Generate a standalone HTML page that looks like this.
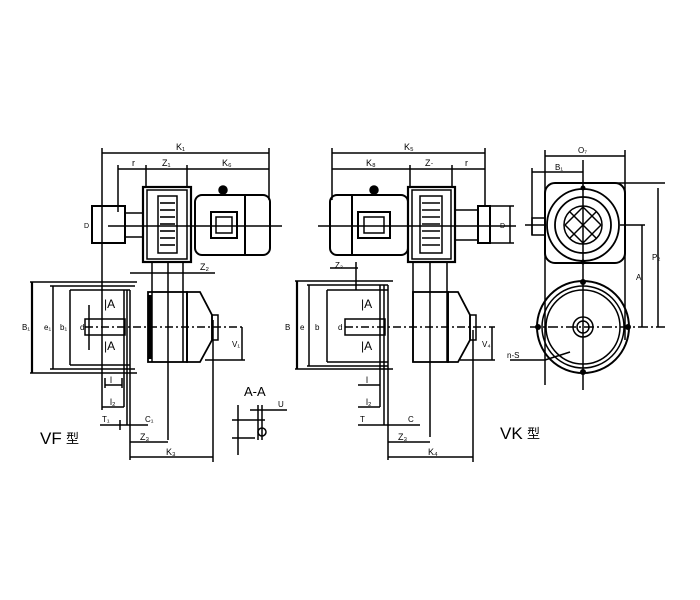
<!DOCTYPE html>
<html><head><meta charset="utf-8"><style>
html,body{margin:0;padding:0;background:#fff;}
svg{display:block;}
text{font-family:"Liberation Sans","Noto Sans CJK SC",sans-serif;fill:#000;}
</style></head><body>
<svg width="700" height="600" viewBox="0 0 700 600" xmlns="http://www.w3.org/2000/svg">
<g stroke="#000" stroke-width="1.5" fill="none">
<line x1="102" y1="148" x2="102" y2="410"/>
<line x1="269" y1="148" x2="269" y2="200"/>
<line x1="102" y1="153" x2="269" y2="153"/>
<line x1="118" y1="169" x2="269" y2="169"/>
<line x1="118" y1="165" x2="118" y2="212"/>
<line x1="146" y1="165" x2="146" y2="187"/>
<line x1="187" y1="165" x2="187" y2="187"/>
<rect x="143" y="187" width="48" height="75" stroke-width="2.2"/>
<rect x="147" y="190" width="40" height="69"/>
<rect x="158" y="196" width="19" height="57"/>
<g stroke-width="1.6"><line x1="160" y1="203" x2="175" y2="203"/><line x1="160" y1="210" x2="175" y2="210"/><line x1="160" y1="217" x2="175" y2="217"/><line x1="160" y1="224" x2="175" y2="224"/><line x1="160" y1="231" x2="175" y2="231"/><line x1="160" y1="238" x2="175" y2="238"/><line x1="160" y1="245" x2="175" y2="245"/></g>
<rect x="195" y="195" width="75" height="60" rx="7" stroke-width="2"/>
<line x1="245" y1="195" x2="245" y2="255" stroke-width="2"/>
<rect x="211" y="212" width="26" height="26" stroke-width="2"/>
<rect x="216" y="217" width="16" height="16"/>
<circle cx="223" cy="190" r="4" fill="#000"/>
<rect x="92" y="206" width="33" height="37" stroke-width="2"/>
<rect x="125" y="213" width="18" height="24"/>
<line x1="108" y1="226" x2="282" y2="226"/>
<line x1="152" y1="262" x2="152" y2="362"/>
<line x1="168" y1="262" x2="168" y2="440"/>
<line x1="183" y1="262" x2="183" y2="362"/>
<line x1="130" y1="273" x2="215" y2="273"/>
<line x1="30" y1="282" x2="137" y2="282"/>
<line x1="30" y1="373" x2="137" y2="373"/>
<line x1="32" y1="282" x2="32" y2="373" stroke-width="2.2"/>
<line x1="53" y1="286" x2="53" y2="369"/>
<line x1="50" y1="286" x2="135" y2="286"/>
<line x1="50" y1="369" x2="135" y2="369"/>
<line x1="70" y1="290" x2="70" y2="365"/>
<line x1="70" y1="290" x2="130" y2="290"/>
<line x1="70" y1="365" x2="130" y2="365"/>
<line x1="130" y1="290" x2="130" y2="460"/>
<line x1="127" y1="290" x2="127" y2="425"/>
<line x1="124" y1="290" x2="124" y2="407"/>
<line x1="85" y1="327" x2="245" y2="327" stroke-dasharray="8,3,2,3"/>
<rect x="85" y="319" width="40" height="16"/>
<line x1="89" y1="305" x2="89" y2="350"/>
<rect x="148" y="292" width="39" height="70" stroke-width="1.8"/>
<line x1="150" y1="295" x2="150" y2="359" stroke-width="3"/>
<polygon points="187,292 200,292 212,315 212,340 200,362 187,362" stroke-width="1.8"/>
<rect x="212" y="315" width="6" height="25"/>
<line x1="242" y1="327" x2="242" y2="360"/>
<line x1="205" y1="360" x2="245" y2="360"/>
<line x1="213" y1="320" x2="213" y2="462"/>
<line x1="130" y1="457" x2="213" y2="457"/>
<line x1="130" y1="442" x2="168" y2="442"/>
<line x1="102" y1="407" x2="124" y2="407"/>
<line x1="105" y1="385" x2="122" y2="385"/>
<line x1="105" y1="378" x2="105" y2="388"/>
<line x1="122" y1="378" x2="122" y2="388"/>
<line x1="100" y1="425" x2="148" y2="425"/>
<line x1="120" y1="420" x2="120" y2="430"/>
<line x1="238" y1="405" x2="238" y2="455"/>
<line x1="232" y1="420" x2="265" y2="420"/>
<line x1="232" y1="438" x2="255" y2="438"/>
<line x1="258" y1="405" x2="258" y2="440"/>
<line x1="262" y1="405" x2="262" y2="440"/>
<line x1="250" y1="410" x2="287" y2="410"/>
<circle cx="262" cy="432" r="4"/>
<line x1="332" y1="148" x2="332" y2="200"/>
<line x1="485" y1="148" x2="485" y2="205"/>
<line x1="332" y1="153" x2="485" y2="153"/>
<line x1="332" y1="169" x2="485" y2="169"/>
<line x1="410" y1="165" x2="410" y2="187"/>
<line x1="452" y1="165" x2="452" y2="187"/>
<rect x="330" y="195" width="78" height="60" rx="7" stroke-width="2"/>
<line x1="352" y1="195" x2="352" y2="255" stroke-width="2"/>
<rect x="358" y="212" width="32" height="26" stroke-width="2"/>
<rect x="364" y="217" width="20" height="16"/>
<circle cx="374" cy="190" r="4" fill="#000"/>
<rect x="408" y="187" width="47" height="75" stroke-width="2.2"/>
<rect x="412" y="190" width="39" height="69"/>
<rect x="420" y="196" width="22" height="57"/>
<g stroke-width="1.6"><line x1="422" y1="203" x2="440" y2="203"/><line x1="422" y1="210" x2="440" y2="210"/><line x1="422" y1="217" x2="440" y2="217"/><line x1="422" y1="224" x2="440" y2="224"/><line x1="422" y1="231" x2="440" y2="231"/><line x1="422" y1="238" x2="440" y2="238"/><line x1="422" y1="245" x2="440" y2="245"/></g>
<rect x="455" y="210" width="23" height="30"/>
<rect x="478" y="206" width="12" height="37" stroke-width="2"/>
<line x1="510" y1="206" x2="510" y2="243"/>
<line x1="490" y1="206" x2="514" y2="206"/>
<line x1="490" y1="243" x2="514" y2="243"/>
<line x1="318" y1="226" x2="516" y2="226"/>
<line x1="413" y1="262" x2="413" y2="362"/>
<line x1="430" y1="262" x2="430" y2="437"/>
<line x1="447" y1="262" x2="447" y2="362"/>
<line x1="330" y1="268" x2="358" y2="268"/>
<line x1="356" y1="262" x2="356" y2="290"/>
<line x1="295" y1="281" x2="393" y2="281"/>
<line x1="295" y1="369" x2="393" y2="369"/>
<line x1="297" y1="281" x2="297" y2="369" stroke-width="2.2"/>
<line x1="309" y1="285" x2="309" y2="366"/>
<line x1="307" y1="285" x2="388" y2="285"/>
<line x1="307" y1="366" x2="388" y2="366"/>
<line x1="327" y1="290" x2="327" y2="362"/>
<line x1="327" y1="290" x2="388" y2="290"/>
<line x1="327" y1="362" x2="388" y2="362"/>
<line x1="388" y1="285" x2="388" y2="460"/>
<line x1="384" y1="285" x2="384" y2="425"/>
<line x1="380" y1="285" x2="380" y2="407"/>
<line x1="345" y1="327" x2="495" y2="327" stroke-dasharray="8,3,2,3"/>
<rect x="345" y="319" width="40" height="16"/>
<rect x="413" y="292" width="35" height="70" stroke-width="1.8"/>
<polygon points="448,292 458,292 470,315 470,340 458,362 448,362" stroke-width="1.8"/>
<rect x="470" y="315" width="6" height="25"/>
<line x1="492" y1="327" x2="492" y2="360"/>
<line x1="460" y1="360" x2="495" y2="360"/>
<line x1="473" y1="330" x2="473" y2="462"/>
<line x1="388" y1="457" x2="473" y2="457"/>
<line x1="388" y1="442" x2="430" y2="442"/>
<line x1="358" y1="407" x2="380" y2="407"/>
<line x1="358" y1="385" x2="380" y2="385"/>
<line x1="358" y1="425" x2="420" y2="425"/>
<line x1="545" y1="150" x2="545" y2="385"/>
<line x1="625" y1="150" x2="625" y2="340"/>
<line x1="545" y1="156" x2="625" y2="156"/>
<line x1="532" y1="172" x2="583" y2="172"/>
<line x1="532" y1="168" x2="532" y2="235"/>
<rect x="532" y="218" width="13" height="17"/>
<rect x="545" y="183" width="80" height="80" rx="10" stroke-width="2"/>
<circle cx="583" cy="225" r="36" stroke-width="1.8"/>
<circle cx="583" cy="225" r="28" stroke-width="1.8"/>
<circle cx="583" cy="225" r="19"/>
<line x1="570" y1="212" x2="596" y2="238"/><line x1="596" y1="212" x2="570" y2="238"/>
<line x1="565" y1="225" x2="583" y2="207"/><line x1="583" y1="243" x2="601" y2="225"/>
<line x1="565" y1="225" x2="583" y2="243"/><line x1="583" y1="207" x2="601" y2="225"/>
<line x1="583" y1="160" x2="583" y2="390"/>
<line x1="525" y1="225" x2="545" y2="225"/>
<circle cx="583" cy="327" r="46" stroke-width="2"/>
<circle cx="583" cy="327" r="41"/>
<circle cx="583" cy="327" r="37"/>
<circle cx="583" cy="327" r="10"/>
<circle cx="583" cy="327" r="6"/>
<line x1="530" y1="327" x2="665" y2="327" stroke-dasharray="10,3,2,3"/>
<line x1="600" y1="183" x2="665" y2="183"/>
<line x1="620" y1="225" x2="645" y2="225"/>
<line x1="642" y1="225" x2="642" y2="327"/>
<line x1="658" y1="188" x2="658" y2="327"/>
<line x1="510" y1="360" x2="545" y2="360"/>
<line x1="545" y1="360" x2="570" y2="352"/>
</g>
<g fill="#000">
<circle cx="583" cy="282" r="3"/><circle cx="583" cy="372" r="3"/>
<circle cx="538" cy="327" r="3"/><circle cx="628" cy="327" r="3"/>
<circle cx="583" cy="262" r="2.5"/><circle cx="583" cy="188" r="2.5"/>
</g>
<g font-size="9">
<text x="176" y="150">K₁</text>
<text x="132" y="166">r</text>
<text x="162" y="166">Z₁</text>
<text x="222" y="166">K₆</text>
<text x="84" y="228" font-size="7">D</text>
<text x="200" y="270">Z₂</text>
<text x="22" y="330" font-size="8">B₁</text>
<text x="44" y="330" font-size="8">e₁</text>
<text x="60" y="330" font-size="8">b₁</text>
<text x="80" y="330" font-size="8">d</text>
<text x="104" y="308" font-size="12">|A</text>
<text x="104" y="350" font-size="12">|A</text>
<text x="232" y="347" font-size="8">V₁</text>
<text x="110" y="383">l</text>
<text x="110" y="405">l₂</text>
<text x="102" y="422" font-size="8">T₁</text>
<text x="145" y="422" font-size="8">C₁</text>
<text x="140" y="440">Z₃</text>
<text x="166" y="455">K₃</text>
<text x="244" y="396" font-size="13">A-A</text>
<text x="278" y="407" font-size="8">U</text>
<text x="40" y="444" font-size="17">VF</text>
<text x="66" y="443" font-size="13">型</text>
<text x="404" y="150">K₅</text>
<text x="366" y="166">K₈</text>
<text x="425" y="166">Z·</text>
<text x="465" y="166">r</text>
<text x="500" y="228" font-size="7">D</text>
<text x="335" y="268" font-size="8">Z₂</text>
<text x="285" y="330" font-size="8">B</text>
<text x="300" y="330" font-size="8">e</text>
<text x="315" y="330" font-size="8">b</text>
<text x="338" y="330" font-size="8">d</text>
<text x="361" y="308" font-size="12">|A</text>
<text x="361" y="350" font-size="12">|A</text>
<text x="482" y="347" font-size="8">V₄</text>
<text x="366" y="383">l</text>
<text x="366" y="405">l₂</text>
<text x="360" y="422" font-size="8">T</text>
<text x="408" y="422" font-size="8">C</text>
<text x="398" y="440">Z₃</text>
<text x="428" y="455">K₄</text>
<text x="500" y="439" font-size="17">VK</text>
<text x="527" y="438" font-size="13">型</text>
<text x="578" y="153" font-size="8">O₇</text>
<text x="555" y="170" font-size="8">B₁</text>
<text x="636" y="280" font-size="8">A</text>
<text x="652" y="260" font-size="8">P₂</text>
<text x="507" y="358" font-size="8">n-S</text>
</g>
</svg>
</body></html>
